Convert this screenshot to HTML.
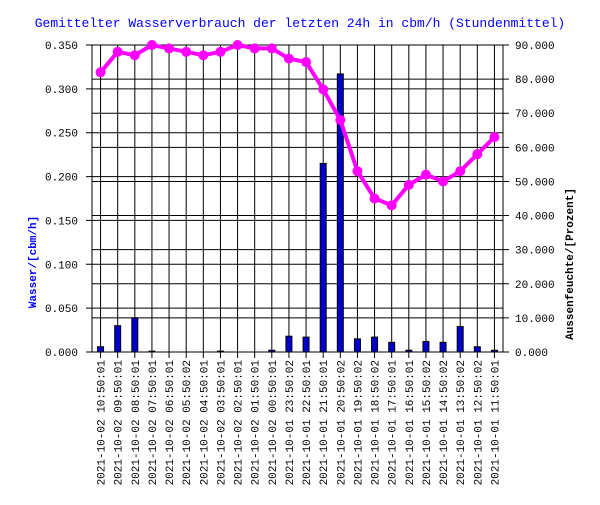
<!DOCTYPE html>
<html><head><meta charset="utf-8"><style>
body{margin:0;background:#fff}
svg{font-family:"Liberation Mono","DejaVu Sans Mono",monospace}
</style></head><body>
<svg id="c" width="600" height="500" xmlns="http://www.w3.org/2000/svg">
<rect width="600" height="500" fill="#fff"/>
<text x="300" y="27" text-anchor="middle" font-size="13" fill="#0000ff">Gemittelter Wasserverbrauch der letzten 24h in cbm/h (Stundenmittel)</text>
<text transform="translate(36,262) rotate(-90)" text-anchor="middle" font-size="11" font-weight="bold" fill="#0000ff">Wasser/[cbm/h]</text>
<text transform="translate(573,264) rotate(-90)" text-anchor="middle" font-size="11" font-weight="bold" fill="#000">Aussenfeuchte/[Prozent]</text>
<g id="g"></g>
</svg>
<script>
const categories=["2021-10-02 10:50:01","2021-10-02 09:50:01","2021-10-02 08:50:01","2021-10-02 07:50:01","2021-10-02 06:50:01","2021-10-02 05:50:02","2021-10-02 04:50:01","2021-10-02 03:50:01","2021-10-02 02:50:01","2021-10-02 01:50:01","2021-10-02 00:50:01","2021-10-01 23:50:02","2021-10-01 22:50:01","2021-10-01 21:50:01","2021-10-01 20:50:02","2021-10-01 19:50:02","2021-10-01 18:50:02","2021-10-01 17:50:01","2021-10-01 16:50:01","2021-10-01 15:50:02","2021-10-01 14:50:02","2021-10-01 13:50:02","2021-10-01 12:50:02","2021-10-01 11:50:01"];
const water=[0.006,0.030,0.039,0.001,0,0,0,0.001,0,0,0.002,0.018,0.017,0.215,0.317,0.015,0.017,0.011,0.002,0.012,0.011,0.029,0.006,0.002];
const humidity=[82,88,87,90,89,88,87,88,90,89,89,86,85,77,68,53,45,43,49,52,50,53,58,63];
const leftTicks=[0,0.05,0.1,0.15,0.2,0.25,0.3,0.35];
const rightTicks=[0,10,20,30,40,50,60,70,80,90];
const L=92,R=503,T=45,B=352;
const NS="http://www.w3.org/2000/svg";
const g=document.getElementById('g');
const step=(R-L)/categories.length;
const x=i=>L+(i+0.5)*step;
const yL=v=>B-(v/0.35)*(B-T);
const yR=v=>B-(v/90)*(B-T);
function mk(t,a){const e=document.createElementNS(NS,t);for(const k in a)e.setAttribute(k,a[k]);g.appendChild(e);return e;}
leftTicks.forEach(v=>{
  const l=mk('line',{x1:L-6,x2:R,y1:yL(v),y2:yL(v),stroke:'#000','stroke-width':1});
  
  
  const t=mk('text',{x:L-14,y:yL(v)+4,'text-anchor':'end','font-size':11});
  t.textContent=v.toFixed(3);
  
  
});
rightTicks.forEach(v=>{
  const l=mk('line',{x1:L,x2:R+6,y1:yR(v),y2:yR(v),stroke:'#000','stroke-width':1});
  
  
  const t=mk('text',{x:R+12,y:yR(v)+4,'font-size':11});
  t.textContent=v.toFixed(3);
  
  
});
const ax=mk('line',{x1:L,x2:L,y1:T,y2:B,stroke:'#000'});


const ax2=mk('line',{x1:R,x2:R,y1:T,y2:B,stroke:'#000'});


categories.forEach((c,i)=>{
  const l=mk('line',{x1:x(i),x2:x(i),y1:T,y2:B+6,stroke:'#000'});
  
  
  const t=mk('text',{transform:`translate(${x(i)+4},${B+8}) rotate(-90)`,'text-anchor':'end','font-size':11});
  t.textContent=c;
  
  
});
water.forEach((v,i)=>{
  const h=B-yL(v);
  const r=mk('rect',{x:x(i)-3,y:yL(v),width:6,height:Math.max(h,0),fill:'#0000cc',stroke:'#000','stroke-width':1});
  
  
});
const p=mk('polyline',{points:humidity.map((v,i)=>x(i)+','+yR(v)).join(' '),fill:'none',stroke:'#ff00ff','stroke-width':4});


humidity.forEach((v,i)=>{
  const c=mk('circle',{cx:x(i),cy:yR(v),r:5,fill:'#ff00ff'});
  
  
});
</script>
</body></html>
